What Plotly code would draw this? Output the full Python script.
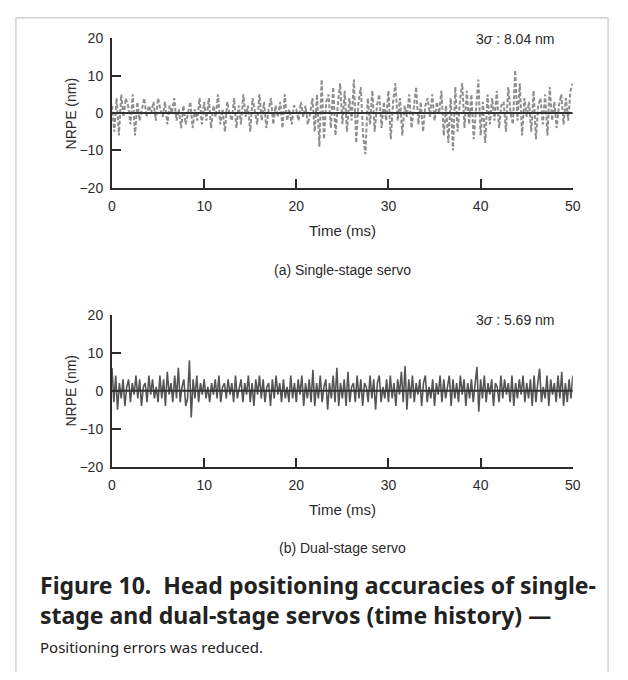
import plotly.graph_objects as go

# ---------------- data ----------------
t_single = [i * 0.25 for i in range(201)]  # ms
nrpe_single = [
    2, -5, 4, -6, 5, -1, 4, 2, -3, 5, -6, 3, -2, 1, 4, -1, 2, 0, 3, -2,
    4, 1, -1, 3, -3, 2, 0, 4, -2, 1, -4, 2, -3, 0, 3, -4, 1, -2, 4, -3,
    3, -2, 4, -4, 2, -1, 5, -3, 1, -5, 3, 0, -2, 4, -4, 2, -3, 5, -1, 2,
    -5, 4, 0, -3, 5, -2, 3, -4, 1, 4, -3, 2, -1, 3, -4, 5, -2, 1, -3, 2,
    1, -2, 3, -1, 2, -3, 0, 4, -5, 5, -9, 9, -7, 3, 5, -4, 7, -6, 2, 8,
    -3, 6, -5, 4, -2, 9, -8, 3, 7, -6, -11, 4, -3, 6, -5, 2, 5, -4, 3, -2,
    6, -7, 3, 8, -2, 4, -6, 2, -1, 5, -4, 1, 7, -3, 3, -5, 2, 4, -1, 5,
    -2, 3, 0, 6, -6, 2, -8, 4, -10, 7, -5, 3, 8, -4, 6, -3, 5, -7, 2, 9,
    -6, 3, -8, 5, -3, 4, -2, 6, -4, 2, 3, -5, 7, 0, -3, 11.5, -2, 8, -6, 4,
    -1, 3, -5, 6, -7, 2, 4, -3, 5, -6, 7, -2, 3, -4, 2, 5, -3, 4, -2, 6,
    8,
]

t_dual = [round(i * 0.2, 2) for i in range(251)]  # ms
nrpe_dual = [
    6, -3, 4, -5, 2, -2, 3, -4, 1, 3, -3, 2, -1, 4, -2, 3, -4, 1, 2, -3, 4, -1, 3, -2, 1,
    -3, 4, -2, 3, -4, 5, -1, 2, -3, 4, -2, 6, -3, 1, 3, -4, -2, 8, -7, 3, -2, 4, -3, 2, -1,
    3, -2, 1, -3, 2, -1, 3, -2, 4, -3, 1, 2, -2, 3, -1, 2, -3, 4, -2, 1, 3, -3, 2, -1, 4,
    -3, 2, -4, 3, -1, 4, -2, 3, -3, 1, 2, -4, 3, -2, 4, -1, 2, -3, 3, -2, 1, -3, 4, -2, 2,
    -3, 3, -1, 4, -4, 2, -2, 3, -3, 5.5, -4, 2, -2, 4, -3, 1, 3, -5, 2, -2, 4, -3, 6, -4, 2,
    -2, 3, -4, 5, -3, 1, 2, -3, 4, -2, 3, -4, 2, 1, -3, 4, -2, 3, -5, 2, 4, -3, 1, -2, 3,
    -3, 4, -2, 2, -4, 3, -1, 5, -3, 6.5, -5, 3, -2, 4, -3, 2, -1, 3, -4, 2, 4, -3, 1, -2, 3,
    -4, 2, -1, 4, -3, 3, -2, 1, 4, -4, 3, -2, 2, -3, 4, -1, 3, -4, 2, -2, 3, -3, 1, 6.3, -5.5,
    3, -2, 4, -3, 2, -1, 3, -4, 2, 1, -3, 4, -2, 3, -1, 2, -3, 4, -4, 2, -2, 3, -1, 4, -3,
    2, -2, 3, -4, 4, -3, 2, 5.8, -3, 1, -2, 4, -4, 3, -1, 2, -3, 4, -2, 5, -4, 2, -3, 3, -2,
    4,
]

x_ticks = [0, 10, 20, 30, 40, 50]
y_ticks = [-20, -10, 0, 10, 20]
y_ticktext = ["\u221220", "\u221210", "0", "10", "20"]
sigma_single = "8.04"
sigma_dual = "5.69"

# ---------------- figure ----------------
# page body keeps its default 8px margin, so the figure is 16px smaller
OFF = 8
W, H = 628 - 2 * OFF, 680 - 2 * OFF
def px(x):
    return (x - OFF) / W
def py(y):
    return 1 - (y - OFF) / H

AX = "#2b2b2b"
FONT = "Liberation Sans, Arial, sans-serif"

fig = go.Figure()
fig.add_trace(go.Scatter(x=t_single, y=nrpe_single, mode="lines",
                         line=dict(color="#8e8e8e", width=2, dash="4px,2px"),
                         xaxis="x", yaxis="y", showlegend=False))
fig.add_trace(go.Scatter(x=t_dual, y=nrpe_dual, mode="lines",
                         line=dict(color="#555555", width=1.6),
                         xaxis="x2", yaxis="y2", showlegend=False))

xdom = [px(110), px(580)]
common_x = dict(range=[0, 50], tickvals=x_ticks, ticks="inside", ticklen=9,
                tickwidth=2, tickcolor=AX, showline=True, linecolor=AX, linewidth=2,
                showgrid=False, zeroline=False, tickfont=dict(family=FONT, size=14, color=AX),
                ticklabelstandoff=4)
common_y = dict(range=[-20, 20], tickvals=y_ticks, ticktext=y_ticktext, ticks="inside",
                ticklen=9, tickwidth=2, tickcolor=AX, showline=True, linecolor=AX,
                linewidth=2, showgrid=False, zeroline=False,
                tickfont=dict(family=FONT, size=14, color=AX), ticklabelstandoff=4)

fig.update_layout(
    width=W, height=H, margin=dict(l=0, r=0, t=0, b=0),
    paper_bgcolor="white", plot_bgcolor="white", showlegend=False,
    xaxis=dict(domain=xdom, anchor="y", **common_x),
    yaxis=dict(domain=[py(184), py(31)], anchor="x", **common_y),
    xaxis2=dict(domain=xdom, anchor="y2", **common_x),
    yaxis2=dict(domain=[py(470), py(314)], anchor="x2", **common_y),
)

# zero lines
for xr, yr in (("x", "y"), ("x2", "y2")):
    fig.add_shape(type="line", xref=xr, yref=yr, x0=0, x1=50, y0=0, y1=0,
                  line=dict(color="#333333", width=2), layer="above")

# border frame
fig.add_shape(type="rect", xref="paper", yref="paper", x0=px(12), x1=px(616),
              y0=py(700), y1=py(10), line=dict(color="#c8c8c8", width=1.2))

def ann(text, x, y, size, xanchor="center", color=AX, family=FONT, textangle=0,
        align="center"):
    fig.add_annotation(text=text, xref="paper", yref="paper", x=px(x), y=py(y),
                       xanchor=xanchor, yanchor="middle", showarrow=False,
                       textangle=textangle, align=align,
                       font=dict(family=family, size=size, color=color))

# top panel texts
ann("3<i>\u03c3</i> : " + sigma_single + " nm", 522, 32, 14)
ann("NRPE (nm)", 68, 108, 14, textangle=-90)
ann("Time (ms)", 345, 228, 15)
ann("(a) Single-stage servo", 345, 268, 14)

# bottom panel texts
ann("3<i>\u03c3</i> : " + sigma_dual + " nm", 522, 319, 14)
ann("NRPE (nm)", 68, 392, 14, textangle=-90)
ann("Time (ms)", 345, 514, 15)
ann("(b) Dual-stage servo", 345, 553, 14)

# caption
CAP = "Noto Sans, Open Sans, sans-serif"
ann("<b>Figure 10.  Head positioning accuracies of single-<br>"
    "stage and dual-stage servos (time history) \u2014</b>", 35, 606, 23,
    xanchor="left", color="#222222", family=CAP, align="left")
ann("Positioning errors was reduced.", 35, 655, 15, xanchor="left",
    color="#222222", family=CAP)

fig.write_html("out.html", config={"displayModeBar": False})
